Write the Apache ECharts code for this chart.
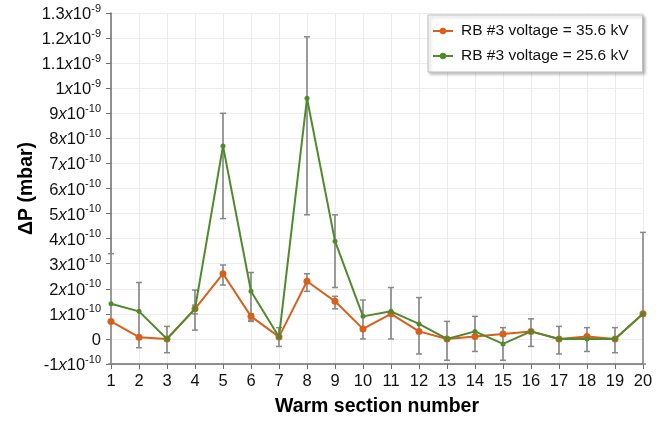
<!doctype html>
<html>
<head>
<meta charset="UTF-8">
<title>Warm section ΔP</title>
<script src="https://cdn.jsdelivr.net/npm/echarts@6/dist/echarts.min.js"></script>
<style>
  html, body { margin: 0; padding: 0; background: #fff; }
  #main { width: 665px; height: 424px; }
</style>
</head>
<body>
<div id="main"></div>
<script>
// values in units of 1e-10 mbar
var sections = [1, 2, 3, 4, 5, 6, 7, 8, 9, 10, 11, 12, 13, 14, 15, 16, 17, 18, 19, 20];
var dp356 = [0.7, 0.07, 0, 1.2, 2.6, 0.9, 0.08, 2.3, 1.5, 0.4, 1.0, 0.3, 0, 0.1, 0.2, 0.3, 0, 0.1, 0, 1.0];
var dp256 = [1.4, 1.1, 0, 1.2, 7.7, 1.9, 0.08, 9.6, 3.9, 0.9, 1.1, 0.6, 0, 0.3, -0.2, 0.3, 0, 0, 0, 1.0];
// error bars [low, high]
var err256 = [[-1.0, 3.4], [-0.35, 2.25], [-0.55, 0.5], [0.35, 1.95], [4.8, 9.0], [0.7, 2.65], [-0.3, 0.45],
  [4.95, 12.05], [2.05, 4.95], [0, 1.55], [0, 2.05], [-0.6, 1.65], [-0.85, 0.7], [-0.5, 0.9], [-0.85, 0.45],
  [-0.3, 0.8], [-0.6, 0.5], [-0.5, 0.45], [-0.55, 0.45], [-1.0, 4.25]];
var err356 = [null, null, null, [1.0, 1.35], [2.15, 2.95], [0.75, 1.0], null, [1.9, 2.6], [1.2, 1.7], null,
  null, null, null, null, null, null, null, null, null, null];
var yTicks = {
  '13': ['1.3', '-9'], '12': ['1.2', '-9'], '11': ['1.1', '-9'], '10': ['1', '-9'],
  '9': ['9', '-10'], '8': ['8', '-10'], '7': ['7', '-10'], '6': ['6', '-10'], '5': ['5', '-10'],
  '4': ['4', '-10'], '3': ['3', '-10'], '2': ['2', '-10'], '1': ['1', '-10'], '-1': ['-1', '-10']
};

var orange = '#d8601b';
var green = '#4f8a2d';

function errData(err) {
  var out = [];
  for (var i = 0; i < sections.length; i++) {
    if (err[i]) out.push([sections[i], err[i][0], err[i][1]]);
  }
  return out;
}

function renderErr(params, api) {
  var lo = api.coord([api.value(0), api.value(1)]);
  var hi = api.coord([api.value(0), api.value(2)]);
  var w = 3;
  var st = { stroke: '#9a9a9a', lineWidth: 2 };
  return {
    type: 'group',
    children: [
      { type: 'line', shape: { x1: lo[0], y1: lo[1], x2: hi[0], y2: hi[1] }, style: st },
      { type: 'line', shape: { x1: lo[0] - w, y1: lo[1], x2: lo[0] + w, y2: lo[1] }, style: { stroke: '#888', lineWidth: 1.5 } },
      { type: 'line', shape: { x1: hi[0] - w, y1: hi[1], x2: hi[0] + w, y2: hi[1] }, style: { stroke: '#888', lineWidth: 1.5 } }
    ]
  };
}

var myChart = echarts.init(document.getElementById('main'));
var option = {
  animation: false,
  textStyle: { fontFamily: 'Liberation Sans, Arial, sans-serif' },
  grid: { left: 111, right: 22, top: 13, bottom: 60 },
  legend: {
    orient: 'vertical',
    left: 428, top: 15,
    width: 216,
    padding: [8, 14, 8, 4],
    itemGap: 9,
    itemWidth: 20, itemHeight: 8,
    backgroundColor: '#fff',
    borderColor: '#bdbdbd', borderWidth: 1,
    shadowColor: 'rgba(0,0,0,0.25)', shadowBlur: 3, shadowOffsetX: 2, shadowOffsetY: 2,
    textStyle: { fontSize: 15.5, color: '#111', padding: [0, 0, 0, 3] },
    data: ['RB #3 voltage = 35.6 kV', 'RB #3 voltage = 25.6 kV']
  },
  xAxis: {
    type: 'value', min: 1, max: 20, interval: 1,
    name: 'Warm section number', nameLocation: 'middle', nameGap: 33,
    nameTextStyle: { fontSize: 19.5, fontWeight: 'bold', color: '#000' },
    axisLine: { onZero: false, lineStyle: { color: '#6e6e6e', width: 1.5 } },
    axisTick: { show: true, length: 5, lineStyle: { color: '#6e6e6e' } },
    axisLabel: { fontSize: 16.5, color: '#111', margin: 9 },
    splitLine: { show: true, lineStyle: { color: '#ececec', width: 1 } }
  },
  yAxis: {
    type: 'value', min: -1, max: 13, interval: 1,
    name: 'ΔP (mbar)', nameLocation: 'middle', nameGap: 74, nameRotate: 90,
    nameMoveOverlap: false,
    nameTextStyle: { fontSize: 19.5, fontWeight: 'bold', color: '#000' },
    axisLine: { show: true, lineStyle: { color: '#6e6e6e', width: 1.5 } },
    axisTick: { show: true, length: 5, lineStyle: { color: '#6e6e6e' } },
    splitLine: { show: true, lineStyle: { color: '#ececec', width: 1 } },
    axisLabel: {
      margin: 10,
      formatter: function (v) {
        var t = yTicks[String(Math.round(v))];
        if (!t) return '{n|0}';
        return '{n|' + t[0] + '}{x|x}{n|10}{s|' + t[1] + '}';
      },
      rich: {
        n: { fontSize: 16.5, color: '#111', lineHeight: 20, verticalAlign: 'bottom' },
        x: { fontSize: 16.5, color: '#111', fontStyle: 'italic', lineHeight: 20, verticalAlign: 'bottom' },
        s: { fontSize: 11, color: '#111', lineHeight: 20, verticalAlign: 'top', padding: [0, 0, 6, 0] }
      }
    }
  },
  series: [
    {
      name: 'err256', type: 'custom', renderItem: renderErr, z: 1,
      data: errData(err256), silent: true
    },
    {
      name: 'err356', type: 'custom', renderItem: renderErr, z: 1,
      data: errData(err356), silent: true
    },
    {
      name: 'RB #3 voltage = 35.6 kV', type: 'line', z: 3,
      data: sections.map(function (s, i) { return [s, dp356[i]]; }),
      symbol: 'circle', symbolSize: 7,
      itemStyle: { color: orange },
      lineStyle: { color: orange, width: 2 }
    },
    {
      name: 'RB #3 voltage = 25.6 kV', type: 'line', z: 4,
      data: sections.map(function (s, i) { return [s, dp256[i]]; }),
      symbol: 'circle', symbolSize: 5,
      itemStyle: { color: green },
      lineStyle: { color: green, width: 2 }
    }
  ]
};
myChart.setOption(option);
</script>
</body>
</html>
